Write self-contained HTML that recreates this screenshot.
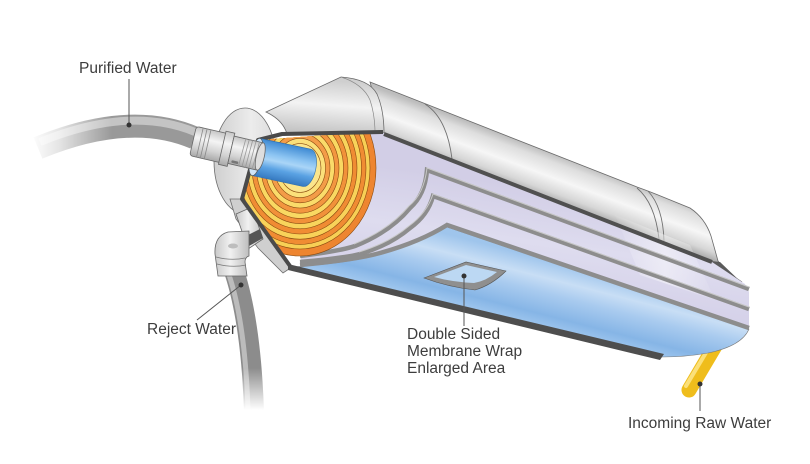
<!DOCTYPE html>
<html><head><meta charset="utf-8"><style>
html,body{margin:0;padding:0;background:#fff;}
svg{display:block;}
text{font-family:"Liberation Sans",Arial,sans-serif;font-size:15.5px;fill:#3d3d3d;}
</style></head><body>
<svg width="810" height="464" viewBox="0 0 810 464" xmlns="http://www.w3.org/2000/svg">
<defs>
<linearGradient id="shell" gradientUnits="userSpaceOnUse" x1="520" y1="141" x2="504" y2="184">
<stop offset="0" stop-color="#bdbdbd"/><stop offset="0.18" stop-color="#dedede"/><stop offset="0.5" stop-color="#f6f6f6"/><stop offset="0.8" stop-color="#d6d6d6"/><stop offset="1" stop-color="#a6a6a6"/></linearGradient>
<linearGradient id="cone" gradientUnits="userSpaceOnUse" x1="322" y1="80" x2="318" y2="134">
<stop offset="0" stop-color="#cfcfcf"/><stop offset="0.45" stop-color="#f3f3f3"/><stop offset="1" stop-color="#c2c2c2"/></linearGradient>
<linearGradient id="disc" x1="0" y1="0" x2="1" y2="0">
<stop offset="0" stop-color="#cfcfcf"/><stop offset="0.6" stop-color="#ececec"/><stop offset="1" stop-color="#dcdcdc"/></linearGradient>
<linearGradient id="lav" gradientUnits="userSpaceOnUse" x1="560" y1="190" x2="545" y2="300">
<stop offset="0" stop-color="#d2cee6"/><stop offset="0.5" stop-color="#dedcef"/><stop offset="1" stop-color="#d4d0e8"/></linearGradient>
<linearGradient id="blue" gradientUnits="userSpaceOnUse" x1="560" y1="263" x2="542" y2="333">
<stop offset="0" stop-color="#9fc5ec"/><stop offset="0.25" stop-color="#c8def5"/><stop offset="0.45" stop-color="#a9cbef"/><stop offset="0.75" stop-color="#86b5e6"/><stop offset="1" stop-color="#a9cdf1"/></linearGradient>
<linearGradient id="tube" x1="0" y1="0" x2="0" y2="1">
<stop offset="0" stop-color="#3e8ad3"/><stop offset="0.35" stop-color="#8cc4f2"/><stop offset="0.5" stop-color="#aad5f7"/><stop offset="0.72" stop-color="#5aa2e3"/><stop offset="1" stop-color="#3579c0"/></linearGradient>
<linearGradient id="conn" x1="0" y1="0" x2="0" y2="1">
<stop offset="0" stop-color="#c6c6c6"/><stop offset="0.35" stop-color="#f4f4f4"/><stop offset="0.7" stop-color="#d2d2d2"/><stop offset="1" stop-color="#a8a8a8"/></linearGradient>
<linearGradient id="elbow" x1="0" y1="0" x2="1" y2="0">
<stop offset="0" stop-color="#c9c9c9"/><stop offset="0.45" stop-color="#f1f1f1"/><stop offset="1" stop-color="#bdbdbd"/></linearGradient>
<linearGradient id="fadeL" gradientUnits="userSpaceOnUse" x1="30" y1="0" x2="112" y2="0">
<stop offset="0" stop-color="#fff" stop-opacity="1"/><stop offset="0.35" stop-color="#fff" stop-opacity="0.75"/><stop offset="1" stop-color="#fff" stop-opacity="0"/></linearGradient>
<linearGradient id="fadeB" gradientUnits="userSpaceOnUse" x1="0" y1="368" x2="0" y2="410">
<stop offset="0" stop-color="#fff" stop-opacity="0"/><stop offset="1" stop-color="#fff" stop-opacity="1"/></linearGradient>
<linearGradient id="streak" gradientUnits="userSpaceOnUse" x1="610" y1="0" x2="720" y2="0">
<stop offset="0" stop-color="#fff" stop-opacity="0"/><stop offset="0.5" stop-color="#fff" stop-opacity="0.45"/><stop offset="1" stop-color="#fff" stop-opacity="0"/></linearGradient>
<clipPath id="cut"><polygon points="258,140 383,131 400,200 380,258 292,266 242,199"/></clipPath>
</defs>

<!-- purified water pipe -->
<path d="M38,148 Q130,110 195,138" stroke="#999" stroke-width="23" fill="none"/>
<path d="M40,142 Q130,105 195,132" stroke="#c4c4c4" stroke-width="8" fill="none"/>
<rect x="26" y="105" width="88" height="65" fill="url(#fadeL)"/>

<!-- reject water pipe -->
<path d="M233,268 Q251,320 254,412" stroke="#8c8c8c" stroke-width="20" fill="none"/>
<path d="M228,272 Q245,320 248,410" stroke="#bcbcbc" stroke-width="5" fill="none"/>
<rect x="220" y="366" width="60" height="50" fill="url(#fadeB)"/>

<!-- incoming yellow pipe -->
<path d="M718,341 L689,390" stroke="#efbd1c" stroke-width="15" stroke-linecap="round" fill="none"/>
<path d="M713,341 L686,386" stroke="#fbe07a" stroke-width="4" stroke-linecap="round" fill="none"/>

<!-- end cap disc -->
<ellipse cx="245" cy="161" rx="31" ry="53" fill="url(#disc)" stroke="#6d6d6d" stroke-width="0.8"/>
<polygon points="230,199 244,199 292,267 283,273 258,248 236,219" fill="#cfcfcf" stroke="#6d6d6d" stroke-width="0.8"/>

<!-- reject connector -->
<polygon points="236,214 252,207 263,239 248,249" fill="url(#elbow)" stroke="#666" stroke-width="0.8"/>
<polygon points="246,236 260,229 263,238 249,246" fill="#555"/>
<path d="M249,231 L228,232 Q214,236 215,254 L218,276 L247,276 L245,262 Q245,257 249,256 Z" fill="url(#elbow)" stroke="#666" stroke-width="0.8"/>
<path d="M216,257 Q231,261 245,258" stroke="#777" stroke-width="0.8" fill="none"/>
<path d="M217,264 Q232,268 246,265" stroke="#777" stroke-width="0.8" fill="none"/>
<ellipse cx="233" cy="246" rx="5" ry="2.5" fill="#bdbdbd"/>

<!-- shell -->
<path d="M370,82 L637,187 Q651,192 663,197 L690,208 Q705,218 711,236 Q715,250 718,261 Q726,272 742,282 L712,262 L384,134 Z" fill="url(#shell)" stroke="#6a6a6a" stroke-width="0.8"/>
<polygon points="711,261 720,262 742,283 726,278 713,273" fill="#5a5a5a"/>
<path d="M637,188 Q655,203 659,239" stroke="#707070" fill="none" stroke-width="0.9"/>
<path d="M648,191 Q663,207 664,241" stroke="#707070" fill="none" stroke-width="0.9"/>
<path d="M425,104 Q447,118 452,159" stroke="#707070" fill="none" stroke-width="0.9"/>

<!-- cone / flange -->
<path d="M266,112 L341,77 Q369,79 377,94 Q384,110 384,133 L287,134 Q283,120 266,112 Z" fill="url(#cone)" stroke="#6a6a6a" stroke-width="0.8"/>
<path d="M341,77 Q363,84 370,100 Q375,115 375,133" stroke="#8a8a8a" fill="none" stroke-width="0.7"/>

<!-- lavender layers -->
<path d="M355,133 L384,133 L712,262 L745,284 L749,292 L749,330 L447,227 Q425,240 395,252 Q350,264 300,265 L310,200 Z" fill="url(#lav)"/>
<polygon points="615,215 690,245 715,300 640,275" fill="url(#streak)"/>
<line x1="384" y1="134" x2="712" y2="262" stroke="#505050" stroke-width="4"/>

<!-- ribs -->
<path d="M749,289 L427,170 Q425,195 410,208 Q390,232 355,246 Q340,251 300,256" stroke="#8d8d8d" stroke-width="4.5" fill="none"/>
<path d="M749,287 L427,168 Q424,194 409,206 Q389,230 354,244" stroke="#c8c8c8" stroke-width="1" fill="none"/>
<path d="M749,309 L433,196 Q428,215 410,228 Q390,245 360,254 Q345,258 300,262" stroke="#8d8d8d" stroke-width="4.5" fill="none"/>
<path d="M749,307 L433,194 Q427,213 409,226 Q389,243 359,252" stroke="#c8c8c8" stroke-width="1" fill="none"/>

<!-- blue membrane -->
<path d="M447,227 L749,329 Q742,346 708,353 Q686,357 662,357 L292,267 Q340,264 375,256 Q420,243 447,227 Z" fill="url(#blue)" stroke="#7a7a7a" stroke-width="0.6"/>
<path d="M749,328 L447,225 Q420,242 380,253 Q355,260 300,265" stroke="#8d8d8d" stroke-width="4.5" fill="none"/>
<polygon points="288,264 664,354 660,360 288,270" fill="#4e4e4e"/>

<!-- patch -->
<path d="M424,278 L466,262 L506,271 Q492,285 475,290 Q448,287 424,278 Z" fill="#8f8f8f" stroke="#555" stroke-width="0.6"/>
<path d="M434,277 L466,265 L497,272 Q486,281 474,283 Q452,282 434,277 Z" fill="#bcd8f3"/>

<!-- spiral roll -->
<g clip-path="url(#cut)" stroke="#8a4a10" stroke-width="0.6">
<ellipse cx="300" cy="168" rx="76" ry="88" fill="#ee8530"/>
<ellipse cx="300" cy="168" rx="70" ry="81" fill="#f7cf55"/>
<ellipse cx="300" cy="168" rx="66" ry="76.4" fill="#f08c33"/>
<ellipse cx="300" cy="168" rx="61.5" ry="71.2" fill="#f8d259"/>
<ellipse cx="300" cy="168" rx="57" ry="66" fill="#f08c33"/>
<ellipse cx="300" cy="168" rx="52.5" ry="60.8" fill="#f8d45c"/>
<ellipse cx="300" cy="168" rx="48" ry="55.6" fill="#f1913a"/>
<ellipse cx="300" cy="168" rx="43.5" ry="50.4" fill="#f9d862"/>
<ellipse cx="300" cy="168" rx="39" ry="45.2" fill="#f29640"/>
<ellipse cx="300" cy="168" rx="34.5" ry="40" fill="#fadb6a"/>
<ellipse cx="300" cy="168" rx="30" ry="34.8" fill="#f39c48"/>
<ellipse cx="300" cy="168" rx="25.5" ry="29.6" fill="#fbe07a"/>
<ellipse cx="300" cy="168" rx="21" ry="24.4" fill="#fbe58c"/>
</g>
<path d="M383,132 L282,134 L258,140 L242,199 L290,266" stroke="#4a4a4a" stroke-width="4" fill="none" stroke-linejoin="round"/>

<!-- blue inner tube -->
<g transform="translate(256,157) rotate(12)">
<path d="M0,-19 L52,-19 A9,19 0 0 1 52,19 L0,19 Z" fill="url(#tube)" stroke="#2f6fae" stroke-width="0.6"/>
<ellipse cx="0" cy="0" rx="6" ry="19" fill="#cfe4f7" stroke="#555" stroke-width="0.7"/>
</g>

<!-- purified connector -->
<g transform="translate(193,141) rotate(13)">
<rect x="0" y="-15" width="32" height="30" rx="3" fill="url(#conn)" stroke="#666" stroke-width="0.8"/>
<line x1="7" y1="-15" x2="7" y2="15" stroke="#888" stroke-width="0.8"/>
<line x1="11" y1="-15" x2="11" y2="15" stroke="#888" stroke-width="0.8"/>
<line x1="15" y1="-15" x2="15" y2="15" stroke="#888" stroke-width="0.8"/>
<rect x="30" y="-17" width="9" height="34" fill="url(#conn)" stroke="#666" stroke-width="0.8"/>
<rect x="39" y="-14" width="30" height="28" fill="url(#conn)" stroke="#666" stroke-width="0.8"/>
<line x1="51" y1="-14" x2="50" y2="14" stroke="#999" stroke-width="0.8"/>
<line x1="54.5" y1="-14" x2="53.5" y2="14" stroke="#999" stroke-width="0.8"/>
<line x1="58" y1="-14" x2="57" y2="14" stroke="#999" stroke-width="0.8"/>
<line x1="61.5" y1="-14" x2="60.5" y2="14" stroke="#999" stroke-width="0.8"/>
<line x1="65" y1="-14" x2="64" y2="14" stroke="#999" stroke-width="0.8"/>
<ellipse cx="69" cy="0" rx="4" ry="14" fill="#dedede" stroke="#666" stroke-width="0.8"/>
<rect x="42" y="10" width="7" height="2.5" rx="1" fill="#777"/>
</g>

<!-- leaders -->
<g stroke="#555" stroke-width="1">
<line x1="129" y1="125" x2="129" y2="79"/>
<line x1="241" y1="285" x2="197" y2="320"/>
<line x1="464" y1="276" x2="464" y2="326"/>
<line x1="700" y1="384" x2="700" y2="411"/>
</g>
<g fill="#333">
<circle cx="129" cy="125" r="2.5"/>
<circle cx="241" cy="285" r="2.5"/>
<circle cx="464" cy="276" r="2.5"/>
<circle cx="700" cy="384" r="2.5"/>
</g>

<!-- labels -->
<text x="79" y="73">Purified Water</text>
<text x="147" y="334">Reject Water</text>
<text x="407" y="339">Double Sided</text>
<text x="407" y="356">Membrane Wrap</text>
<text x="407" y="373">Enlarged Area</text>
<text x="628" y="428">Incoming Raw Water</text>
</svg>
</body></html>
